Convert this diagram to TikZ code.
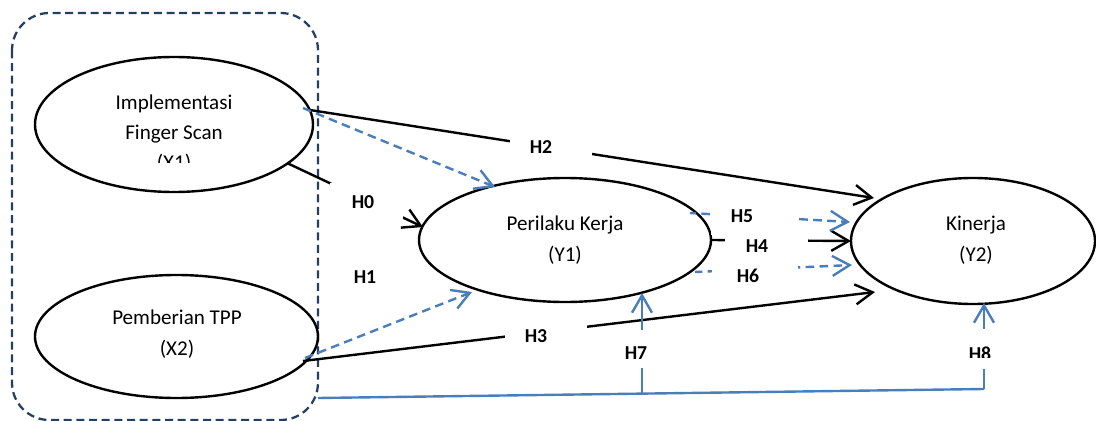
\documentclass[tikz,border=0pt]{standalone}
\usepackage{fontspec}
\setmainfont{Carlito}
\usetikzlibrary{shapes.geometric,arrows.meta}
\definecolor{pathblue}{RGB}{74,126,187}
\definecolor{framenavy}{RGB}{36,64,97}
\begin{document}
\begin{tikzpicture}[x=0.75pt,y=-0.75pt,
  construct/.style={draw=black, line width=1.8pt, ellipse, inner sep=0pt, outer sep=0pt},
  caption/.style={font=\fontsize{15.8}{19}\selectfont, anchor=base, inner sep=0pt},
  hyp/.style={font=\bfseries\fontsize{14.8}{17}\selectfont, anchor=base, inner sep=0pt},
  mask/.style={fill=white, draw=none, inner sep=0pt, minimum height=28.5pt},
  tip/.style={-{Straight Barb[length=13pt,width=15pt]}},
  solidpath/.style={line width=1.8pt, black, tip},
  dashpath/.style={line width=1.8pt, pathblue, dash pattern=on 6.5pt off 4pt, tip},
  bluepath/.style={line width=1.8pt, pathblue},
  frame/.style={draw=framenavy, line width=1.7pt, dash pattern=on 6pt off 3.5pt, rounded corners=28pt}
]
\useasboundingbox (0,0) rectangle (1096,421);

% grouping frame around the two independent variables
\draw[frame] (12,13) rectangle (318,420);

% constructs
\node[construct, minimum width=278*0.75pt, minimum height=135*0.75pt] (x1) at (174,124.5) {};
\node[construct, minimum width=283*0.75pt, minimum height=123*0.75pt] (x2) at (176.5,336.5) {};
\node[construct, minimum width=292*0.75pt, minimum height=124*0.75pt] (y1) at (565,240) {};
\node[construct, minimum width=244*0.75pt, minimum height=126*0.75pt] (y2) at (973,241) {};

% construct captions
\node[caption] (x1l1) at (174,109) {Implementasi};
\node[caption] (x1l2) at (174,139) {Finger Scan};
\begin{scope}
  \clip (100,80) rectangle (250,162);
  \node[caption] (x1l3) at (174,169) {(X1)};
\end{scope}
\node[caption] (x2l1) at (177,324) {Pemberian TPP};
\node[caption] (x2l2) at (177,355) {(X2)};
\node[caption] (y1l1) at (565,230) {Perilaku Kerja};
\node[caption] (y1l2) at (565,261) {(Y1)};
\node[caption] (y2l1) at (976,230) {Kinerja};
\node[caption] (y2l2) at (976,261) {(Y2)};

% connector end points
\coordinate (x1a) at (310,110);
\coordinate (x1b) at (303,108);
\coordinate (x1c) at (287,163);
\coordinate (x2a) at (303,361);
\coordinate (x2b) at (305,358);
\coordinate (y1top) at (495,187);
\coordinate (y1left) at (423,227);
\coordinate (y1low) at (472,292);
\coordinate (y1bot) at (642,293);
\coordinate (y1r5) at (690,213);
\coordinate (y1r6) at (695,272);
\coordinate (y2a) at (874,198);
\coordinate (y2h5) at (850,222);
\coordinate (y2h6) at (852,265);
\coordinate (y2e) at (875,292);
\coordinate (y2bot) at (984,303);
\coordinate (base0) at (318,398);
\coordinate (base7) at (642,393.6);
\coordinate (base8) at (984,389);

% direct and mediated paths
\draw[solidpath] (x1a) -- (y2a);
\draw[dashpath] (x1b) -- (y1top);
\draw[solidpath] (x1c) -- (y1left);
\draw[dashpath] (x2b) -- (y1low);
\draw[solidpath] (x2a) -- (y2e);
\draw[solidpath] (y1.east) -- (y2.west);
\draw[dashpath, dash phase=2pt] (y1r5) -- (y2h5);
\draw[dashpath, dash phase=1pt] (y1r6) -- (y2h6);

% moderating path from the frame
\draw[bluepath] (base0) -- (base8);
\draw[bluepath, tip] (base7) -- (y1bot);
\draw[bluepath, tip] (base8) -- (y2bot);

% white text boxes interrupting the paths
\node[mask, minimum width=73*0.75pt] (g0) at (366.5,202) {};
\node[mask, minimum width=82*0.75pt] (g2) at (551,147) {};
\node[mask, minimum width=82*0.75pt] (g3) at (546,335) {};
\node[mask, minimum width=83*0.75pt] (g4) at (766.5,246) {};
\node[mask, minimum width=84*0.75pt] (g5) at (753,216) {};
\node[mask, minimum width=86*0.75pt] (g6) at (755,277) {};
\node[mask, minimum width=60*0.75pt] (g7) at (641,349) {};
\node[mask, minimum width=60*0.75pt, minimum height=30pt] (g8) at (982,349) {};

% hypothesis labels
\node[hyp] (h0) at (363,208) {H0};
\node[hyp] (h1) at (365,283) {H1};
\node[hyp] (h2) at (541,153) {H2};
\node[hyp] (h3) at (536,342) {H3};
\node[hyp] (h4) at (757,252) {H4};
\node[hyp] (h5) at (742,222) {H5};
\node[hyp] (h6) at (748,282) {H6};
\node[hyp] (h7) at (636,359) {H7};
\begin{scope}
  \clip (940,330) rectangle (1020,357.5);
  \node[hyp] (h8) at (980,360) {H8};
\end{scope}
\end{tikzpicture}
\end{document}
